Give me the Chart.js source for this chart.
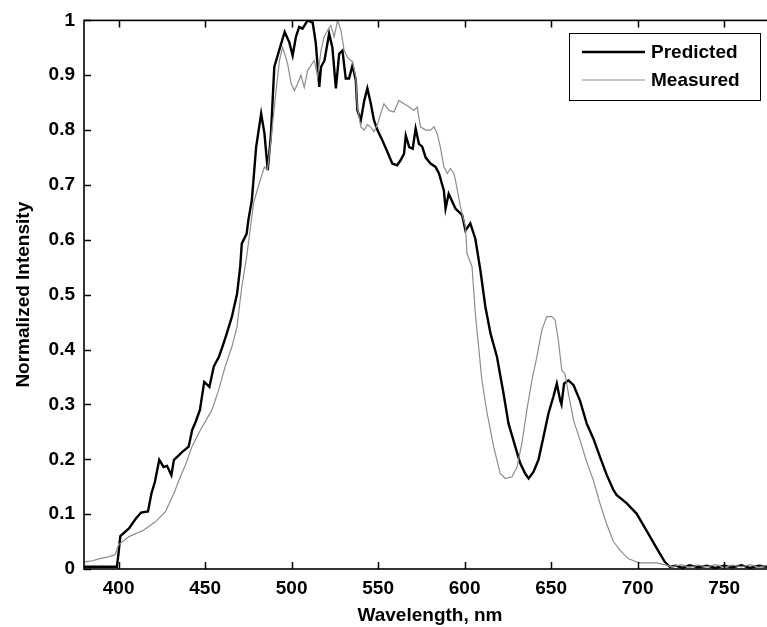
<!DOCTYPE html>
<html>
<head>
<meta charset="utf-8">
<script src="https://cdn.jsdelivr.net/npm/chart.js@4"></script>
<style>
  html, body { margin: 0; padding: 0; background: #fff; overflow: hidden; }
  #wrap { width: 767px; height: 627px; position: relative; overflow: hidden; }
  canvas { display: block; }
</style>
</head>
<body>
<div id="wrap"><canvas id="c" width="790" height="627"></canvas></div>
<script>
// ---- data ----
const seriesNames = ["Predicted", "Measured"];

const predictedX = [380, 390, 399, 400, 401, 406, 410, 413, 417, 419, 421, 423.5, 426, 428, 430.5, 432, 434, 437, 440.5, 442.5, 444.5, 447, 449.5, 452.5, 455, 458, 460, 462.5, 465.5, 468.5, 470.3, 471.2, 474, 475, 477, 479.5, 482.4, 484.3, 486.2, 488, 490, 494, 496, 498.7, 500.6, 502.5, 504.4, 506.3, 509.3, 512.2, 514, 516, 517, 519, 521.7, 523.6, 525.6, 527.5, 529.4, 531.3, 533.2, 535.2, 537.1, 538, 540, 542, 543.8, 545.7, 547.6, 549.6, 552.5, 555.4, 558.2, 561, 563, 565, 566, 568, 570, 571.7, 573.6, 575.5, 577.5, 580.3, 583.2, 585.2, 588, 589, 590.8, 594.7, 598.6, 600.5, 603.3, 606.2, 609.1, 612, 615, 618.7, 622.5, 625.4, 629.3, 632.1, 635, 637, 639.8, 642.7, 645.6, 648.5, 651.3, 653.3, 655.2, 656, 657.5, 660, 663, 666.7, 670.6, 674.4, 678.2, 682.1, 686, 687.8, 693.6, 699.4, 705, 711, 715.7, 718.6, 722, 726, 730, 735, 740, 745, 750, 755, 760, 765, 770, 775, 780];
const predictedY = [0.004, 0.004, 0.004, 0.03, 0.06, 0.074, 0.092, 0.103, 0.105, 0.138, 0.159, 0.199, 0.186, 0.188, 0.171, 0.199, 0.205, 0.214, 0.223, 0.253, 0.268, 0.290, 0.341, 0.332, 0.369, 0.387, 0.405, 0.429, 0.460, 0.502, 0.551, 0.593, 0.611, 0.636, 0.672, 0.769, 0.830, 0.794, 0.727, 0.79, 0.915, 0.958, 0.979, 0.96, 0.936, 0.970, 0.988, 0.985, 1.0, 0.996, 0.958, 0.879, 0.915, 0.927, 0.976, 0.95, 0.876, 0.939, 0.945, 0.894, 0.894, 0.918, 0.891, 0.836, 0.818, 0.854, 0.876, 0.85, 0.818, 0.80, 0.781, 0.760, 0.739, 0.736, 0.745, 0.757, 0.790, 0.769, 0.766, 0.803, 0.775, 0.77, 0.75, 0.739, 0.733, 0.721, 0.690, 0.657, 0.684, 0.657, 0.645, 0.617, 0.630, 0.602, 0.545, 0.478, 0.429, 0.387, 0.32, 0.265, 0.223, 0.193, 0.174, 0.165, 0.177, 0.199, 0.241, 0.284, 0.314, 0.338, 0.308, 0.30, 0.338, 0.344, 0.335, 0.307, 0.265, 0.238, 0.205, 0.172, 0.144, 0.135, 0.12, 0.101, 0.071, 0.038, 0.013, 0.004, 0.006, 0.002, 0.007, 0.003, 0.006, 0.002, 0.006, 0.003, 0.007, 0.002, 0.006, 0.004, 0.006];

const measuredX = [380, 385, 389, 394, 398, 400, 406, 414.6, 421.3, 427, 432, 435.7, 438.6, 442.4, 447.2, 454, 457.8, 461.6, 465.5, 468.4, 471.2, 474, 476, 478, 481, 484.3, 486, 488, 491, 493, 494.8, 497.7, 499.7, 501.6, 503.5, 505.4, 507.3, 509.3, 511.2, 513.1, 515, 517, 518.8, 520.8, 522.7, 524.6, 526.6, 528.5, 530.4, 532.3, 535.2, 537.1, 538, 540, 542, 543.8, 545.7, 547.6, 549.6, 551.5, 553.4, 556.3, 559.2, 562, 565, 568, 570.7, 572.6, 574.5, 577.5, 580.3, 582.3, 584.2, 586, 588, 590, 591.8, 593.8, 594.7, 597.6, 600.5, 601.4, 604.3, 606.2, 608.1, 610, 613, 616.8, 620.6, 623.5, 627.4, 630.3, 633.1, 636, 638.9, 641.8, 644.6, 647.5, 650.4, 652.3, 654.2, 656.2, 658, 660, 663, 666.7, 670.6, 674.4, 678.2, 682, 686, 689.7, 694.5, 701, 711, 716.6, 720, 725, 730, 735, 740, 745, 750, 755, 760, 765, 770, 775, 780];
const measuredY = [0.013, 0.015, 0.019, 0.022, 0.026, 0.044, 0.059, 0.071, 0.086, 0.104, 0.138, 0.168, 0.189, 0.223, 0.253, 0.290, 0.326, 0.369, 0.405, 0.441, 0.514, 0.569, 0.617, 0.667, 0.70, 0.733, 0.727, 0.78, 0.872, 0.927, 0.951, 0.921, 0.885, 0.872, 0.885, 0.90, 0.878, 0.909, 0.918, 0.927, 0.897, 0.945, 0.970, 0.982, 0.991, 0.97, 1.0, 0.982, 0.945, 0.933, 0.924, 0.897, 0.842, 0.806, 0.80, 0.81, 0.806, 0.797, 0.81, 0.830, 0.848, 0.836, 0.833, 0.854, 0.848, 0.842, 0.836, 0.842, 0.806, 0.80, 0.80, 0.806, 0.793, 0.769, 0.733, 0.721, 0.73, 0.721, 0.709, 0.66, 0.623, 0.575, 0.551, 0.466, 0.405, 0.344, 0.284, 0.223, 0.174, 0.165, 0.168, 0.186, 0.229, 0.290, 0.344, 0.387, 0.435, 0.46, 0.46, 0.454, 0.417, 0.362, 0.356, 0.32, 0.271, 0.235, 0.195, 0.162, 0.12, 0.083, 0.05, 0.035, 0.019, 0.011, 0.011, 0.007, 0.004, 0.008, 0.003, 0.007, 0.004, 0.008, 0.003, 0.007, 0.004, 0.008, 0.003, 0.007, 0.005];

const xTickValues = [400, 450, 500, 550, 600, 650, 700, 750];
const yTickValues = [0, 0.1, 0.2, 0.3, 0.4, 0.5, 0.6, 0.7, 0.8, 0.9, 1];
const yTickLabels = ["0", "0.1", "0.2", "0.3", "0.4", "0.5", "0.6", "0.7", "0.8", "0.9", "1"];
const xTitle = "Wavelength, nm";
const yTitle = "Normalized Intensity";

// ---- build ----
const toPoints = (xs, ys) => xs.map((x, i) => ({ x: x, y: ys[i] }));
const FONT = "'Liberation Sans', Arial, sans-serif";

const innerTicks = {
  id: 'innerTicks',
  afterDatasetsDraw(chart) {
    const { ctx, chartArea: a, scales } = chart;
    const len = 7;
    ctx.save();
    ctx.strokeStyle = '#000';
    ctx.lineWidth = 1.5;
    ctx.beginPath();
    xTickValues.forEach(v => {
      const px = Math.round(scales.x.getPixelForValue(v)) + 0.5;
      ctx.moveTo(px, a.bottom); ctx.lineTo(px, a.bottom - len);
      ctx.moveTo(px, a.top); ctx.lineTo(px, a.top + len);
    });
    yTickValues.forEach(v => {
      const py = Math.round(scales.y.getPixelForValue(v)) + 0.5;
      ctx.moveTo(a.left, py); ctx.lineTo(a.left + len, py);
      ctx.moveTo(a.right, py); ctx.lineTo(a.right - len, py);
    });
    ctx.stroke();
    ctx.lineWidth = 1.6;
    ctx.strokeRect(a.left, a.top, a.right - a.left, a.bottom - a.top);
    ctx.restore();
  }
};

const boxLegend = {
  id: 'boxLegend',
  afterDraw(chart) {
    const ctx = chart.ctx;
    const bx = 569.5, by = 33.5, bw = 191, bh = 67;
    ctx.save();
    ctx.fillStyle = '#fff';
    ctx.fillRect(bx, by, bw, bh);
    ctx.strokeStyle = '#000';
    ctx.lineWidth = 1;
    ctx.strokeRect(bx, by, bw, bh);
    const rows = [52, 80];
    chart.data.datasets.forEach((ds, i) => {
      const y = rows[i];
      ctx.strokeStyle = ds.borderColor;
      ctx.lineWidth = ds.borderWidth;
      ctx.beginPath();
      ctx.moveTo(582, y); ctx.lineTo(645, y);
      ctx.stroke();
      ctx.fillStyle = '#000';
      ctx.font = "bold 19px " + FONT;
      ctx.textAlign = 'left';
      ctx.textBaseline = 'middle';
      ctx.fillText(ds.label, 651, y + 0.5);
    });
    ctx.restore();
  }
};

new Chart(document.getElementById('c'), {
  type: 'line',
  data: {
    datasets: [
      {
        label: seriesNames[0],
        data: toPoints(predictedX, predictedY),
        borderColor: '#000000',
        borderWidth: 2.4,
        pointRadius: 0,
        tension: 0,
        fill: false,
        order: 1
      },
      {
        label: seriesNames[1],
        data: toPoints(measuredX, measuredY),
        borderColor: '#8c8c8c',
        borderWidth: 1.2,
        pointRadius: 0,
        tension: 0,
        fill: false,
        order: 0
      }
    ]
  },
  options: {
    responsive: false,
    maintainAspectRatio: false,
    animation: false,
    devicePixelRatio: 1,
    layout: { padding: { top: 20, right: 14, left: 0, bottom: 0 } },
    plugins: {
      legend: { display: false },
      tooltip: { enabled: false },
      title: { display: false }
    },
    scales: {
      x: {
        type: 'linear',
        min: 380,
        max: 780,
        grid: { display: false, drawTicks: false },
        border: { display: false },
        afterBuildTicks: s => { s.ticks = xTickValues.map(v => ({ value: v })); },
        afterFit: s => { s.height = 58; },
        ticks: {
          color: '#000',
          padding: 8,
          maxRotation: 0,
          autoSkip: false,
          font: { family: FONT, size: 19, weight: 'bold' },
          callback: v => String(v)
        },
        title: {
          display: true,
          text: xTitle,
          color: '#000',
          padding: { top: 0, bottom: 0 },
          font: { family: FONT, size: 19, weight: 'bold' }
        }
      },
      y: {
        type: 'linear',
        min: 0,
        max: 1,
        grid: { display: false, drawTicks: false },
        border: { display: false },
        afterBuildTicks: s => { s.ticks = yTickValues.map(v => ({ value: v })); },
        afterFit: s => { s.width = 84; },
        ticks: {
          color: '#000',
          padding: 9,
          autoSkip: false,
          font: { family: FONT, size: 19, weight: 'bold' },
          callback: (v) => {
            const i = yTickValues.findIndex(t => Math.abs(t - v) < 1e-9);
            return i >= 0 ? yTickLabels[i] : '';
          }
        },
        title: {
          display: true,
          text: yTitle,
          color: '#000',
          padding: { top: 12, bottom: 0 },
          font: { family: FONT, size: 19, weight: 'bold' }
        }
      }
    }
  },
  plugins: [innerTicks, boxLegend]
});
</script>
</body>
</html>
